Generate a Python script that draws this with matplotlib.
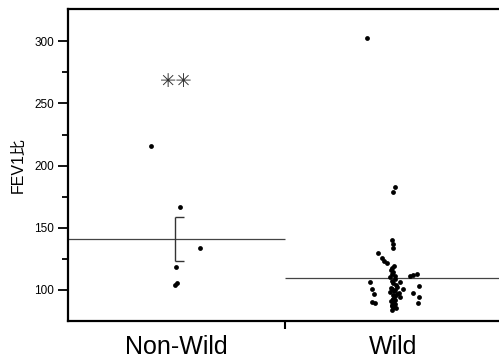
import matplotlib.pyplot as plt
import numpy as np

# data
groups = ["Non-Wild", "Wild"]

nonwild_vals = [215.6, 166.6, 133.7, 118.5, 105.6, 104.2]
nonwild_dx = [-0.115, 0.018, 0.111, 0.0, 0.005, -0.005]

wild_vals = [303, 183, 179, 140, 137, 134, 129.7, 125.7, 123, 121.7,
             117.7, 114.5, 113, 111, 110, 111, 112, 112.8, 106.4, 105.6,
             106.4, 103.2, 100.8, 101.6, 100, 100.8, 97.6, 97.6, 96.8, 96,
             94.4, 90.4, 89.6, 90.4, 88, 89.6, 84, 94.4,
             119.5, 116, 108.5, 107.5, 104, 102.5, 99, 98.5, 95, 93,
             92, 87, 86, 85.5, 91, 88.5, 86.5, 96.5, 101, 89, 92.5]
wild_dx = [-0.12, 0.012, 0.0, -0.005, 0.0, 0.0, -0.069, -0.051, -0.041, -0.028,
           -0.005, 0.0, -0.005, 0.009, -0.014, 0.078, 0.092, 0.111, -0.106, 0.0,
           0.032, 0.12, -0.097, -0.009, 0.009, 0.046, 0.028, 0.092, -0.088, 0.0,
           0.12, -0.097, -0.083, 0.0, -0.005, 0.115, -0.005, 0.032,
           0.005, -0.01, 0.012, -0.004, 0.015, 0.02, 0.005, -0.012, 0.01, 0.0,
           0.008, -0.006, 0.004, 0.014, -0.008, 0.01, 0.002, 0.018, -0.003, 0.006, 0.0]

signif = "✳✳"
signif_y = 268

plt.rcParams['font.family'] = ['Liberation Sans', 'Noto Sans CJK JP']

fig = plt.figure(figsize=(4.99, 3.59), dpi=100)
ax = fig.add_axes([68/499, 38/359, 1 - 68/499, 312/359])

ax.scatter(np.array(nonwild_dx) + 0, nonwild_vals, s=12, color='black', lw=0, zorder=3)
ax.scatter(np.array(wild_dx) + 1, wild_vals, s=12, color='black', lw=0, zorder=3)

# mean lines
nw_mean = np.mean(nonwild_vals)
w_mean = np.mean(wild_vals)
ax.hlines(nw_mean, -0.5, 0.5, color='#444444', lw=0.9)
ax.hlines(w_mean, 0.5, 1.49, color='#444444', lw=0.9)

# error bar (mean +/- SE) with half caps
nw_se = np.std(nonwild_vals, ddof=1) / np.sqrt(len(nonwild_vals))
ax.vlines(-0.005, nw_mean - nw_se, nw_mean + nw_se, color='#333333', lw=1.0)
ax.hlines([nw_mean - nw_se, nw_mean + nw_se], -0.005, 0.035, color='#333333', lw=1.0)

ax.text(0.0, signif_y, signif, ha='center', va='center', fontsize=14,
        color='#333333', family=['DejaVu Sans'])

ax.set_xlim(-0.5, 1.49)
ax.set_ylim(75, 326)
ax.set_yticks([100, 150, 200, 250, 300])
ax.set_yticks([125, 175, 225, 275], minor=True)
ax.tick_params(axis='y', which='major', direction='out', length=7, width=1.3,
               labelsize=8.5, pad=3)
ax.tick_params(axis='y', which='minor', direction='out', length=4, width=1.3)

ax.set_xticks([0.5])
ax.set_xticklabels([''])
ax.set_xticks([0, 1], minor=True)
ax.set_xticklabels(groups, minor=True, fontsize=18)
ax.tick_params(axis='x', which='major', direction='out', length=6, width=1.5)
ax.tick_params(axis='x', which='minor', length=0, pad=10)

ax.set_ylabel("FEV1比", fontsize=11.5, labelpad=6)

ax.spines['right'].set_visible(False)
for s in ['left', 'bottom', 'top']:
    ax.spines[s].set_linewidth(1.6)

fig.savefig("out.png", dpi=100)
